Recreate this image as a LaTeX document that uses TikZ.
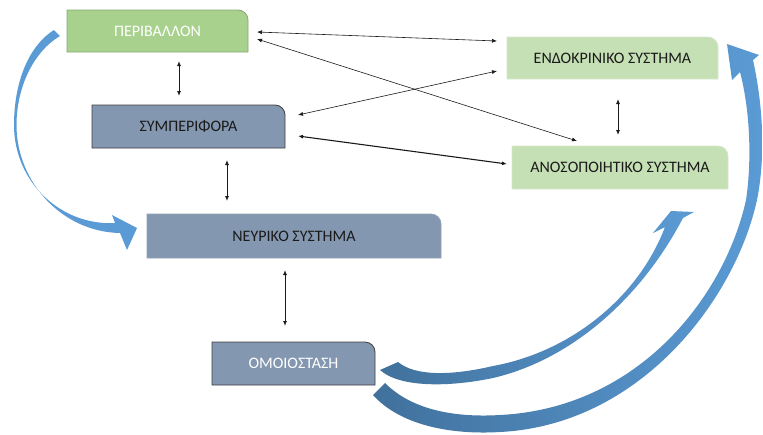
\documentclass[tikz,border=0pt]{standalone}
\usepackage{xcolor}
\usepackage{fontspec}
\setmainfont{Carlito}
\usepackage{tikz}
\usetikzlibrary{arrows.meta, backgrounds}
\definecolor{envgreen}{HTML}{A9D18E}
\definecolor{envedge}{HTML}{86A873}
\definecolor{sysgreen}{HTML}{C5E0B4}
\definecolor{sysedge}{HTML}{D6E7CB}
\definecolor{slateblue}{HTML}{8497B0}
\definecolor{slateedge}{HTML}{3F3F3F}
\definecolor{flowlight}{HTML}{5B9BD5}
\definecolor{flowdark}{HTML}{41719C}
\definecolor{inktext}{HTML}{1A1A1A}

% box with the top right corner rounded, drawn behind node #1
\newcommand{\tabshape}[3]{%
  \filldraw[fill=#2, draw=#3, line width=0.8pt] (#1.south west) -- (#1.north west)
    -- ([xshift=-10pt]#1.north east) arc[start angle=90, end angle=0, radius=10pt]
    -- (#1.south east) -- cycle;}

\begin{document}
\begin{tikzpicture}[x=1pt, y=-1pt,
    box/.style={inner sep=0pt, outer sep=0pt, font=\fontsize{16}{19}\selectfont, text=inktext},
    link/.style={{Latex[length=5pt,width=4pt]}-{Latex[length=5pt,width=4pt]}, line width=0.6pt, color=inktext}
  ]
    \useasboundingbox (0,0) rectangle (763,434);

    \node[box, text=white, minimum width=181pt, minimum height=42pt] (env)    at (157.5,31)   {ΠΕΡΙΒΑΛΛΟΝ};
    \node[box, minimum width=193pt, minimum height=43pt]             (beh)    at (188.5,126.5) {ΣΥΜΠΕΡΙΦΟΡΑ};
    \node[box, minimum width=211pt, minimum height=42pt]             (endo)   at (612.5,58)   {ΕΝΔΟΚΡΙΝΙΚΟ ΣΥΣΤΗΜΑ};
    \node[box, minimum width=216pt, minimum height=43pt]             (immune) at (620,167.5)  {ΑΝΟΣΟΠΟΙΗΤΙΚΟ ΣΥΣΤΗΜΑ};
    \node[box, minimum width=294pt, minimum height=44pt]             (nerve)  at (294,236)    {ΝΕΥΡΙΚΟ ΣΥΣΤΗΜΑ};
    \node[box, text=white, minimum width=163pt, minimum height=43pt] (homeo)  at (293.5,363.5) {ΟΜΟΙΟΣΤΑΣΗ};

    \begin{scope}[on background layer]
      \tabshape{env}{envgreen}{envedge}
      \tabshape{beh}{slateblue}{slateedge}
      \tabshape{endo}{sysgreen}{sysedge}
      \tabshape{immune}{sysgreen}{sysedge}
      \tabshape{nerve}{slateblue}{slateblue!90!white}
      \tabshape{homeo}{slateblue}{slateedge}
    \end{scope}

    % two-way links
    \draw[link, line width=0.9pt] ([shift={(21.5,9)}]env.south)   -- ([shift={(-9.5,-9)}]beh.north);
    \draw[link, line width=0.9pt] ([shift={(38.5,12)}]beh.south)  -- ([shift={(-67,-13)}]nerve.north);
    \draw[link, line width=0.9pt] ([shift={(-9,12)}]nerve.south)  -- ([shift={(-8.5,-16)}]homeo.north);
    \draw[link, line width=0.9pt] ([shift={(5.5,20)}]endo.south)  -- ([shift={(-2,-11)}]immune.north);
    \draw[link] ([shift={(9,1)}]env.east)    -- ([shift={(-10,-17)}]endo.west);
    \draw[link] ([shift={(9,8)}]env.east)    -- ([shift={(-43,-5)}]immune.north);
    \draw[link] ([shift={(13,-11.5)}]beh.east) -- ([shift={(-10,13)}]endo.west);
    \draw[link, line width=1.1pt] ([shift={(13,9.5)}]beh.east) -- ([shift={(-5,-3.5)}]immune.west);

    % curved block arrows
    \fill[flowlight] (54,30) .. controls (27,47) and (14,85) .. (14,125)
      .. controls (14,183) and (62,226) .. (115,223)
      -- (112,215) -- (137,228) -- (127,250) -- (120,233)
      .. controls (62,232) and (16.5,182) .. (16.5,125)
      .. controls (16.5,88) and (33,52) .. (60,36) -- cycle;

    \shade[left color=flowdark, right color=flowlight]
      (380,370) .. controls (400,388) and (450,387) .. (493,378)
      .. controls (570,360) and (640,300) .. (683,218)
      -- (694,212) -- (671,211) -- (653,233) -- (665,227)
      .. controls (638,298) and (570,352) .. (493,366)
      .. controls (450,376) and (415,376) .. (398,362) -- cycle;

    \shade[left color=flowdark, right color=flowlight]
      (373,395) .. controls (400,425) and (450,435) .. (500,432)
      .. controls (640,425) and (735,300) .. (757,200)
      .. controls (765,160) and (764,110) .. (753,60)
      -- (759,55) -- (727,44) -- (732,80) -- (740,72)
      .. controls (750,110) and (752,160) .. (746,200)
      .. controls (725,295) and (640,408) .. (500,415)
      .. controls (450,418) and (410,408) .. (385,383) -- cycle;
\end{tikzpicture}
\end{document}
